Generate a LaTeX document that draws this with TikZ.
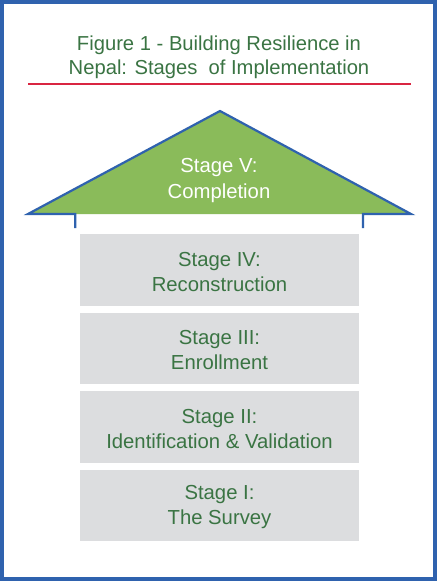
\documentclass[tikz,border=0pt]{standalone}
\usepackage{fontspec}
\setmainfont{Liberation Sans}
\definecolor{frameblue}{HTML}{2F62AE}
\definecolor{titlegreen}{HTML}{3A7443}
\definecolor{roofgreen}{HTML}{8ABB5A}
\definecolor{boxgray}{HTML}{DCDDDF}
\definecolor{rulered}{HTML}{D92541}
\tikzset{
  stagebox/.style={fill=boxgray, draw=none, minimum width=279pt, minimum height=71.5pt, inner sep=0pt,
    align=center, text=titlegreen, font=\fontsize{20.3}{25}\selectfont},
  stagetext/.style={align=center, text=titlegreen, font=\fontsize{20.3}{25}\selectfont},
  titletext/.style={align=center, text=titlegreen, font=\fontsize{20.2}{24}\selectfont},
}
\begin{document}
\begin{tikzpicture}[x=1pt,y=1pt]
\useasboundingbox (0,0) rectangle (437,-581);
\fill[white] (0,0) rectangle (437,-581);
\draw[frameblue, line width=4pt] (2,-2) rectangle (435,-579);
% title
\node[titletext] (title) at (219,-57.5) {Figure 1 - Building Resilience in\\Nepal: Stages\ \ of Implementation};
\coordinate (rl) at (28,-84);
\coordinate (rr) at (411,-84);
\draw[rulered, line width=1.6pt] (rl) -- (rr);
% roof
\coordinate (apex) at (220,-111);
\coordinate (bl) at (28,-214);
\coordinate (br) at (411,-214);
\coordinate (pl) at (75.3,-214);
\coordinate (pr) at (363,-214);
\coordinate (fl) at (75.3,-228);
\coordinate (fr) at (363,-228);
\fill[roofgreen] (bl) -- (apex) -- (br) -- cycle;
\draw[frameblue, line width=2.2pt, line join=miter] (fl) -- (pl) -- (bl) -- (apex) -- (br) -- (pr) -- (fr);
\node[align=center, text=white, font=\fontsize{20.3}{26}\selectfont] (s5) at (219,-181) {Stage V:\\Completion};
% boxes
\node[stagebox] (s4) at (219.5,-269.75) {};
\node[stagebox] (s3) at (219.5,-348.25) {};
\node[stagebox] (s2) at (219.5,-426.75) {};
\node[stagebox] (s1) at (219.5,-505.25) {};
\node[stagetext] (t4) at ([yshift=-2pt]s4.center) {Stage IV:\\Reconstruction};
\node[stagetext] (t3) at ([yshift=-2pt]s3.center) {Stage III:\\Enrollment};
\node[stagetext] (t2) at ([yshift=-2pt]s2.center) {Stage II:\\Identification \& Validation};
\node[stagetext] (t1) at ([yshift=-2pt]s1.center) {Stage I:\\The Survey};
\end{tikzpicture}
\end{document}
